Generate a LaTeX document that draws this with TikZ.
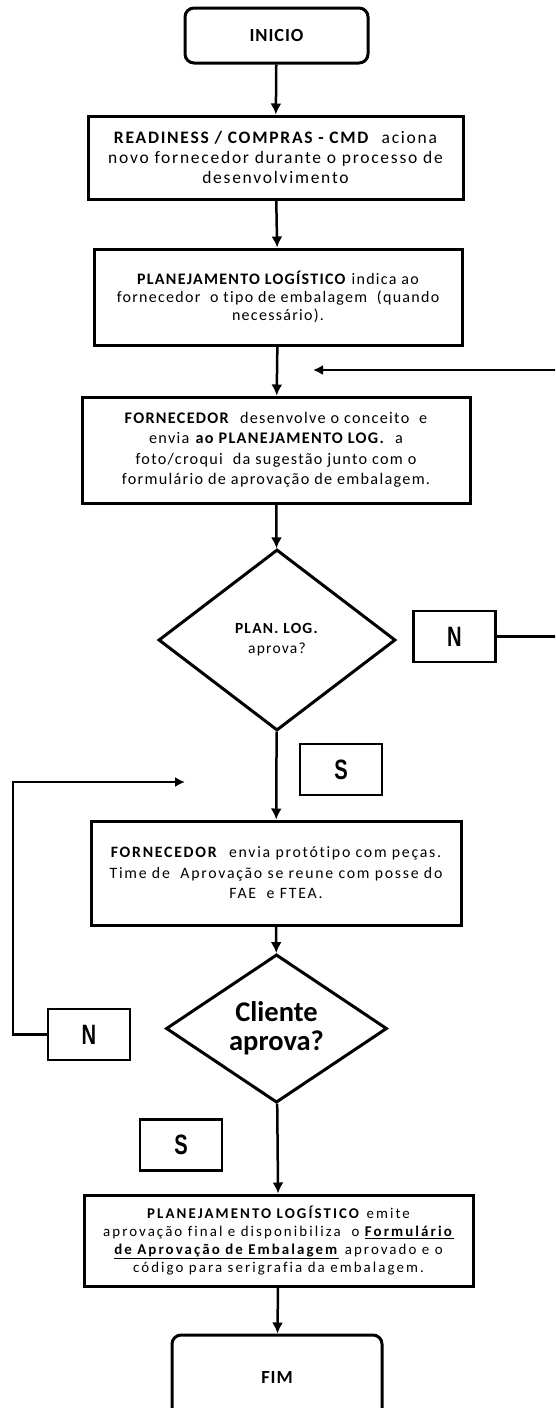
\documentclass[tikz,border=0pt]{standalone}
\usepackage{fontspec}
\setmainfont{Carlito}[Ligatures=NoCommon]
\newfontfamily\narrowfont{Liberation Sans}
\usepackage{graphicx}
\usetikzlibrary{arrows.meta,shapes.geometric}

\newcommand{\boxfont}[3]{\fontsize{#1}{#2}\selectfont\addfontfeature{LetterSpace=#3}}
\tikzset{
  procbox/.style={draw, line width=3pt, align=center, inner sep=0pt},
  termbox/.style={draw, line width=3pt, rounded corners=9pt, inner sep=0pt, font=\boxfont{18.5}{20}{5}\bfseries},
  decbox/.style={draw, diamond, line width=3pt, align=center, inner sep=0pt},
  snbox/.style={draw, line width=2.5pt, minimum width=82pt, minimum height=51pt, inner sep=0pt, font=\fontsize{28}{28}\selectfont\narrowfont\bfseries},
  flow/.style={line width=2.5pt, -{Latex[length=11pt,width=11pt]}},
  loopflow/.style={line width=2.5pt, -{Latex[length=10pt,width=10pt]}}
}

\begin{document}
\begin{tikzpicture}[x=1pt,y=-1pt]
	\useasboundingbox (0,0) rectangle (555,1408);
	\fill[white] (0,0) rectangle (555,1408);
	\clip (0,0) rectangle (555,1408);
	\node (inicio) [termbox, minimum width=183pt, minimum height=55pt] at (276.5,35.5) {INICIO};
	\node (readiness) [procbox, minimum width=375pt, minimum height=83pt, font=\boxfont{17.5}{20}{10}] at (275.5,157.5) {\textbf{READINESS / COMPRAS - CMD}\ \ aciona\\novo fornecedor durante o processo de\\desenvolvimento};
	\node (planind) [procbox, minimum width=368pt, minimum height=96pt, font=\boxfont{16}{18}{8}] at (278,297) {\textbf{PLANEJAMENTO LOGÍSTICO} indica ao\\fornecedor\ \ o tipo de embalagem\ \ (quando\\necessário).};
	\node (fornconc) [procbox, minimum width=388pt, minimum height=106pt, font=\boxfont{16.2}{20.5}{8}] at (276,450) {\textbf{FORNECEDOR}\ \ desenvolve o conceito\ \ e\\envia \textbf{ao PLANEJAMENTO LOG.}\ \ a\\foto/croqui\ \ da sugestão junto com o\\formulário de aprovação de embalagem.};
	\node (planlog) [decbox, minimum width=237pt, minimum height=181pt, font=\boxfont{15.5}{20}{8}] at (277,640) {\textbf{PLAN. LOG.}\\aprova?};
	\node (nsim1) [snbox] at (454.5,636.5) {\scalebox{0.72}[1]{N}};
	\node (ssim1) [snbox] at (341,769.5) {\scalebox{0.72}[1]{S}};
	\node (fornprot) [procbox, minimum width=370pt, minimum height=104pt, font=\boxfont{15.8}{20.5}{11}] at (276,873) {\textbf{FORNECEDOR}\ \ envia protótipo com peças.\\Time de\ \ Aprovação se reune com posse do\\FAE\ \ e FTEA.};
	\node (cliente) [decbox, minimum width=221pt, minimum height=133pt, font=\fontsize{28.5}{29}\selectfont\bfseries] at (276.5,1028.5) {Cliente\\aprova?};
	\node (nsim2) [snbox] at (89,1034.5) {\scalebox{0.72}[1]{N}};
	\node (ssim2) [snbox] at (181,1145) {\scalebox{0.72}[1]{S}};
	\node (planfinal) [procbox, minimum width=389pt, minimum height=91pt, font=\boxfont{14.9}{18}{14}] at (278.5,1240.5) {\textbf{PLANEJAMENTO LOGÍSTICO} emite\\aprovação final e disponibiliza\ \ o \underline{\textbf{Formulário}}\\\underline{\textbf{de Aprovação de Embalagem}} aprovado e o\\código para serigrafia da embalagem.};
	\node (fim) [termbox, minimum width=210pt, minimum height=84pt] at (277,1377) {FIM};
	\coordinate (volta1) at (313,370);
	\coordinate (volta2) at (185,782);
	\draw[flow] (inicio) -- (readiness);
	\draw[flow] (readiness) -- (planind);
	\draw[flow] (planind) -- (fornconc);
	\draw[flow] (fornconc) -- (planlog);
	\draw[flow] (planlog) -- (fornprot);
	\draw[flow] (fornprot) -- (cliente);
	\draw[flow] (cliente) -- (planfinal);
	\draw[flow] (planfinal) -- (fim);
	\draw[loopflow] (nsim1.east) -- ++(90,0) |- (volta1);
	\draw[loopflow] (nsim2.west) -| (13,782) -- (volta2);
\end{tikzpicture}
\end{document}
